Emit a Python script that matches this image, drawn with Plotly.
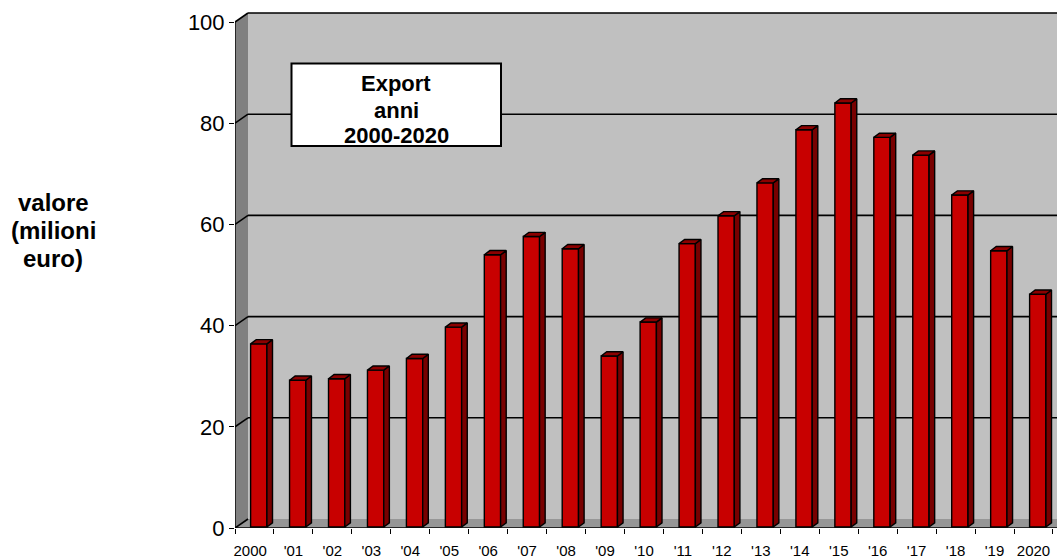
import plotly.graph_objects as go

years = ["2000", "'01", "'02", "'03", "'04", "'05", "'06", "'07", "'08", "'09", "'10",
         "'11", "'12", "'13", "'14", "'15", "'16", "'17", "'18", "'19", "2020"]
values = [36.2, 29.0, 29.3, 31.0, 33.3, 39.5, 53.8, 57.4, 55.0, 33.8, 40.5,
          56.0, 61.5, 68.0, 78.5, 83.8, 77.0, 73.5, 65.6, 54.6, 46.0]
y_ticks = [0, 20, 40, 60, 80, 100]
title_lines = ["Export", "anni", "2000-2020"]
side_lines = ["valore", "(milioni", "euro)"]

W, H = 1057, 558
ML, MR, MT, MB = 235, 0, 2, 30
PX_X = 38.95
PX_Y = 5.06
XMAX = (W - ML - MR) / PX_X
YMAX = (H - MT - MB) / PX_Y
DX, DY = 13 / PX_X, 9 / PX_Y          # depth of the box
BW = 16.3 / PX_X                      # bar width
BDX, BDY = 5.6 / PX_X, 4.2 / PX_Y     # depth of a bar
BASE = 1 / PX_Y
SHIFT = 0.61

def to_x(px):
    return (px - ML) / PX_X

def to_y(py):
    return (528 - py) / PX_Y

def path(xs, ys):
    return "M" + " L".join(f"{x},{y}" for x, y in zip(xs, ys)) + " Z"

def wall(xs, ys, fill):
    return dict(type="path", path=path(xs, ys), xref="x", yref="y", fillcolor=fill,
                line=dict(width=0), layer="below")

def seg(x0, y0, x1, y1, width=1.6):
    return dict(type="line", x0=x0, y0=y0, x1=x1, y1=y1, xref="x", yref="y",
                line=dict(color="#000000", width=width), layer="below")

shapes = [
    wall([DX, XMAX, XMAX, DX], [DY, DY, 100 + DY, 100 + DY], "#c0c0c0"),
    wall([0, DX, DX, 0], [0, DY, 100 + DY, 100], "#808080"),
    wall([0, XMAX, XMAX, DX], [0, 0, DY, DY], "#969696"),
]
for v in y_ticks:
    shapes.append(seg(0, v, DX, v + DY))
    if v > 0:
        shapes.append(seg(DX, v + DY, XMAX, v + DY))
shapes.append(seg(0, 0, 0, 100, 1.4))
shapes.append(seg(0, 0, XMAX, 0, 1.4))
# title box
shapes.append(dict(type="rect", xref="x", yref="y", x0=to_x(291.5), x1=to_x(501), y0=to_y(146), y1=to_y(63.5),
                   fillcolor="#ffffff", line=dict(color="#000000", width=2), layer="below"))

fig = go.Figure()

xc = [i + SHIFT for i in range(len(values))]
fig.add_trace(go.Bar(x=xc, y=values, base=BASE, width=BW,
                     marker=dict(color="#c80000", line=dict(color="#000000", width=1.4)),
                     hoverinfo="skip", showlegend=False))

sx, sy, tx, ty = [], [], [], []
for c, v in zip(xc, values):
    r = c + BW / 2
    l = c - BW / 2
    top = BASE + v
    sx += [r, r + BDX, r + BDX, r, r, None]
    sy += [BASE, BASE + BDY, top + BDY, top, BASE, None]
    tx += [l, r, r + BDX, l + BDX, l, None]
    ty += [top, top, top + BDY, top + BDY, top, None]
for xs, ys, col in ((sx, sy, "#780000"), (tx, ty, "#8c0000")):
    fig.add_trace(go.Scatter(x=xs, y=ys, mode="lines", fill="toself", fillcolor=col,
                             line=dict(color="#000000", width=1.4), hoverinfo="skip",
                             showlegend=False, cliponaxis=False))

# x labels on an overlaying axis, centred between the ticks (the first one pushed left)
label_pos = [i + 0.5 for i in range(len(years))]
label_pos[0] = 0.39
fig.add_trace(go.Scatter(x=label_pos, y=values, xaxis="x2", mode="none",
                         hoverinfo="skip", showlegend=False))

annotations = []
for txt, py in zip(title_lines, [83, 110, 135]):
    annotations.append(dict(text=f"<b>{txt}</b>", xref="x", yref="y", x=to_x(396), y=to_y(py), showarrow=False,
                            xanchor="center", yanchor="middle", font=dict(size=22, color="#000000")))
for txt, py in zip(side_lines, [202, 230, 258]):
    annotations.append(dict(text=f"<b>{txt}</b>", xref="paper", yref="paper",
                            x=(53 - ML) / (W - ML - MR), y=(528 - py) / (H - MT - MB), showarrow=False,
                            xanchor="center", yanchor="middle", font=dict(size=24, color="#000000")))

fig.update_layout(
    width=W, height=H, autosize=False, paper_bgcolor="#ffffff", plot_bgcolor="#ffffff",
    margin=dict(l=ML, r=MR, t=MT, b=MB, autoexpand=False), barmode="overlay",
    font=dict(family="Liberation Sans", color="#000000"),
    shapes=shapes, annotations=annotations,
    xaxis=dict(range=[0, XMAX], tickmode="array", tickvals=list(range(len(years) + 1)),
               ticktext=[""] * (len(years) + 1), ticks="outside", ticklen=5, tickwidth=1, tickcolor="#000000",
               showgrid=False, zeroline=False, showline=False, automargin=False),
    xaxis2=dict(range=[0, XMAX], overlaying="x", anchor="y", side="bottom", tickmode="array",
                tickvals=label_pos, ticktext=years, ticks="", ticklen=0,
                ticklabelstandoff=12, tickangle=0, tickfont=dict(family="Liberation Sans", size=15),
                showgrid=False, zeroline=False, showline=False, automargin=False),
    yaxis=dict(range=[0, YMAX], tickmode="array", tickvals=y_ticks, ticktext=[str(t) for t in y_ticks],
               ticks="outside", ticklen=5, tickwidth=1, tickcolor="#000000", tickfont=dict(size=22),
               ticklabelstandoff=0, showgrid=False, zeroline=False, showline=False, automargin=False),
)

fig.write_html("out.html", post_script="document.body.style.margin='0';", config={"displayModeBar": False})
